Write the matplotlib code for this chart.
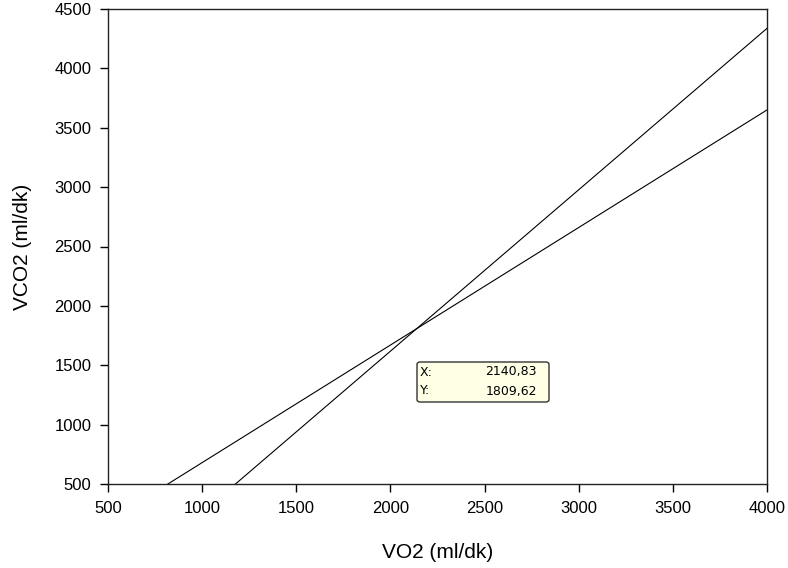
import matplotlib
matplotlib.use("Agg")
import matplotlib.pyplot as plt
from matplotlib.patches import FancyBboxPatch

# Regression lines (VO2 vs VCO2), given by their end points
line1_vo2 = [818, 4000]
line1_vco2 = [500, 3650]
line2_vo2 = [1177, 4000]
line2_vco2 = [500, 4337]

# Intersection readout
cross_x = 2140.83
cross_y = 1809.62

x_ticks = [500, 1000, 1500, 2000, 2500, 3000, 3500, 4000]
y_ticks = [500, 1000, 1500, 2000, 2500, 3000, 3500, 4000, 4500]

plt.rcParams['font.family'] = ['Liberation Sans', 'DejaVu Sans']

fig = plt.figure(figsize=(7.88, 5.68), dpi=100)
ax = fig.add_axes([108 / 788, 1 - 484 / 568, (767 - 108) / 788, (484 - 9) / 568])

ax.plot(line1_vo2, line1_vco2, color='black', linewidth=0.8)
ax.plot(line2_vo2, line2_vco2, color='black', linewidth=0.8)

ax.set_xlim(500, 4000)
ax.set_ylim(500, 4500)
ax.set_xticks(x_ticks)
ax.set_yticks(y_ticks)
ax.tick_params(direction='out', length=6, width=1, labelsize=12, pad=6)
for s in ax.spines.values():
    s.set_linewidth(1.0)
    s.set_color('#222222')

ax.set_xlabel('VO2 (ml/dk)', fontsize=15, labelpad=20)
ax.set_ylabel('VCO2 (ml/dk)', fontsize=15, labelpad=16)


def fmt(v):
    return f"{v:.2f}".replace('.', ',')


# Readout box near the crossing point
bx0, by0, bx1, by1 = 417 / 788, 1 - 402 / 568, 549 / 788, 1 - 362 / 568
fig.patches.append(FancyBboxPatch((bx0, by0), bx1 - bx0, by1 - by0,
                                  boxstyle="round,pad=0,rounding_size=0.004",
                                  transform=fig.transFigure, facecolor='#FFFFE6',
                                  edgecolor='#333333', linewidth=1.0, zorder=5))
for label, val, ypix in (("X:", cross_x, 372), ("Y:", cross_y, 391)):
    fig.text(bx0 + 3 / 788, 1 - ypix / 568, label, fontsize=9, family='DejaVu Sans',
             va='center', zorder=6)
    fig.text(bx1 - 12 / 788, 1 - ypix / 568, fmt(val), fontsize=9, family='DejaVu Sans',
             va='center', ha='right', zorder=6)

fig.savefig('out.png', dpi=100)
